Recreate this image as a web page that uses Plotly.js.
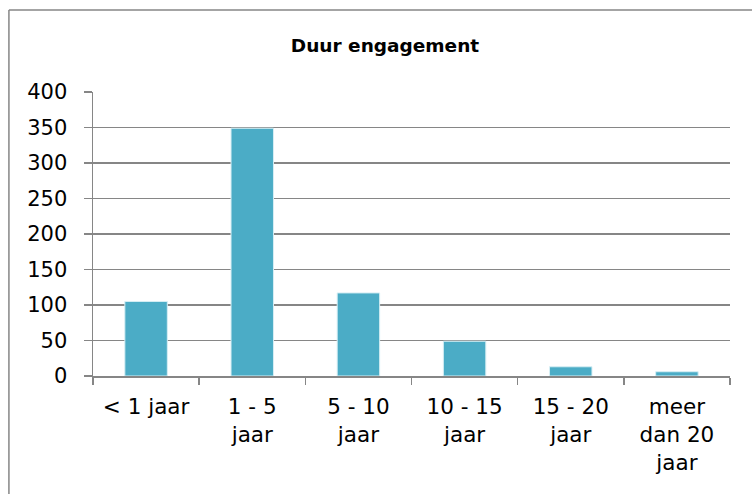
<!DOCTYPE html>
<html>
<head>
<meta charset="utf-8">
<script src="https://cdn.plot.ly/plotly-3.0.1.min.js"></script>
<style>html,body{margin:0;padding:0;background:#fff;}#chart{width:752px;height:494px;}</style>
</head>
<body>
<div id="chart"></div>
<script>
var categories = ["< 1 jaar", "1 - 5<br>jaar", "5 - 10<br>jaar", "10 - 15<br>jaar", "15 - 20<br>jaar", "meer<br>dan 20<br>jaar"];
var values = [105, 349, 117, 49, 13, 6];
var yTicks = [0, 50, 100, 150, 200, 250, 300, 350, 400];
var chartTitle = "Duur engagement";

var font = "DejaVu Sans, Verdana, sans-serif";
var trace = {
  type: "bar",
  x: categories,
  y: values,
  marker: {color: "#4BACC6", line: {color: "#D6EEF4", width: 1}},
  hoverinfo: "x+y"
};
var layout = {
  width: 752, height: 494,
  margin: {l: 93, r: 22, t: 92, b: 118},
  paper_bgcolor: "#fff", plot_bgcolor: "#fff",
  showlegend: false,
  bargap: 0.6,
  title: {text: "<b>" + chartTitle + "</b>", font: {family: font, size: 18.5, color: "#000"}, x: 0.512, xanchor: "center", y: 0.907, yanchor: "middle"},
  xaxis: {
    type: "category",
    tickson: "boundaries",
    ticks: "outside", ticklen: 7, tickcolor: "#868686", tickwidth: 1.5,
    showline: true, linecolor: "#868686", linewidth: 1.5,
    showgrid: false,
    tickfont: {family: font, size: 21.5, color: "#000"},
    ticklabelstandoff: 11
  },
  yaxis: {
    range: [0, 400],
    tickvals: yTicks,
    ticktext: yTicks.map(String),
    ticks: "outside", ticklen: 8, tickcolor: "#868686", tickwidth: 1.5,
    showline: true, linecolor: "#868686", linewidth: 1.5,
    showgrid: true, gridcolor: "#868686", gridwidth: 1.5,
    zeroline: false,
    tickfont: {family: font, size: 21, color: "#000"},
    ticklabelstandoff: 12
  },
  shapes: [
    {type: "line", xref: "paper", yref: "paper", x0: -0.132, x1: 1.1, y0: 1.2887, y1: 1.2887, line: {color: "#868686", width: 1.5}},
    {type: "line", xref: "paper", yref: "paper", x0: -0.132, x1: -0.132, y0: 1.2887, y1: -0.5, line: {color: "#868686", width: 1.5}}
  ]
};
Plotly.newPlot("chart", [trace], layout, {displayModeBar: false, staticPlot: true});
</script>
</body>
</html>
